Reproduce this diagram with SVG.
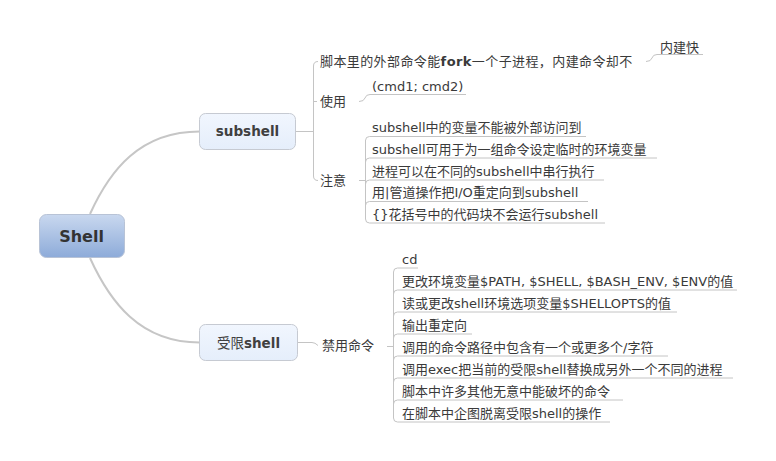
<svg xmlns="http://www.w3.org/2000/svg" width="776" height="461" viewBox="0 0 776 461">
<defs>
<linearGradient id="rootG" x1="0" y1="0" x2="0" y2="1">
<stop offset="0" stop-color="#c9d8ef"/>
<stop offset="1" stop-color="#8dabd9"/>
</linearGradient>
<linearGradient id="subG" x1="0" y1="0" x2="0" y2="1">
<stop offset="0" stop-color="#f1f6fe"/>
<stop offset="1" stop-color="#e5eefb"/>
</linearGradient>
</defs>
<style>
text{font-family:"DejaVu Sans","Noto Sans CJK SC",sans-serif;fill:#3a3a3a;font-size:13px}
.b{font-weight:bold}
.n{font-weight:normal}
.box{font-size:13.5px;font-weight:bold;fill:#404040;text-anchor:middle}
.main{fill:none;stroke:#c6c6c6;stroke-width:2}
.ln{fill:none;stroke:#c4c4c4;stroke-width:1}
</style>
<rect width="776" height="461" fill="#ffffff"/>
<g id="connectors">
<path class="main" d="M90,214 C110,170 140,131.5 199.5,131.5"/>
<path class="main" d="M90,258 C110,302 140,342.5 199.5,342.5"/>
<path class="ln" d="M296,131.5 L313.5,131.5"/>
<path class="ln" d="M318,61.5 Q313.5,61.5 313.5,66 L313.5,176 Q313.5,180.5 318,180.5"/>
<path class="ln" d="M313.5,101.5 L317,101.5"/>
<path class="ln" d="M646,61.5 Q651,61.5 652,58 Q653,54.5 657,54.5 L703,54.5"/>
<path class="ln" d="M359,101.5 Q364,101.5 365,98 Q366,94.5 370,94.5 L466,94.5"/>
<path class="ln" d="M359,180.5 L365.5,180.5"/>
<path class="ln" d="M365.5,140 L365.5,219"/>
<path class="ln" d="M365.5,140.5 Q365.5,136.5 369.5,136.5 L586,136.5"/>
<path class="ln" d="M365.5,162 Q365.5,158 369.5,158 L657,158"/>
<path class="ln" d="M365.5,184 Q365.5,180 369.5,180 L604,180"/>
<path class="ln" d="M365.5,205.5 Q365.5,201.5 369.5,201.5 L588,201.5"/>
<path class="ln" d="M365.5,219 Q365.5,223 369.5,223 L605,223"/>
<path class="ln" d="M298,342.5 L312,342.5 Q315,342.5 318,345.5"/>
<path class="ln" d="M387,346.5 L393.5,346.5"/>
<path class="ln" d="M393.5,272 L393.5,418"/>
<path class="ln" d="M393.5,272 Q393.5,268 397.5,268 L418,268"/>
<path class="ln" d="M393.5,294 Q393.5,290 397.5,290 L737,290"/>
<path class="ln" d="M393.5,316 Q393.5,312 397.5,312 L677,312"/>
<path class="ln" d="M393.5,338 Q393.5,334 397.5,334 L472,334"/>
<path class="ln" d="M393.5,360 Q393.5,356 397.5,356 L668,356"/>
<path class="ln" d="M393.5,382 Q393.5,378 397.5,378 L733,378"/>
<path class="ln" d="M393.5,404 Q393.5,400 397.5,400 L623,400"/>
<path class="ln" d="M393.5,418 Q393.5,422 397.5,422 L610,422"/>
</g>
<g id="root">
<rect x="39.5" y="214.5" width="85" height="43" rx="7" fill="url(#rootG)" stroke="#b8c3d6"/>
<text class="box" x="81.5" y="241.5" style="font-size:16px;fill:#333">Shell</text>
</g>
<g id="subshell">
<rect x="199.5" y="113.5" width="96" height="36" rx="6" fill="url(#subG)" stroke="#c6cad2"/>
<text class="box" x="247.5" y="136">subshell</text>
</g>
<g id="restricted">
<rect x="199.5" y="324.5" width="98" height="36" rx="6" fill="url(#subG)" stroke="#c6cad2"/>
<text class="box" x="248.5" y="347.5"><tspan class="n">受限</tspan>shell</text>
</g>
<g id="n-fork"><text x="320" y="66" style="letter-spacing:0.4px">脚本里的外部命令能<tspan class="b">fork</tspan>一个子进程，内建命令却不</text></g>
<g id="n-builtin"><text x="660" y="51.5">内建快</text></g>
<g id="n-use"><text x="320" y="106">使用</text></g>
<g id="n-cmd"><text x="372" y="90.5">(cmd1; cmd2)</text></g>
<g id="n-note"><text x="320" y="185">注意</text></g>
<g id="n-note1"><text x="372" y="132">subshell中的变量不能被外部访问到</text></g>
<g id="n-note2"><text x="372" y="153.5">subshell可用于为一组命令设定临时的环境变量</text></g>
<g id="n-note3"><text x="372" y="175.5">进程可以在不同的subshell中串行执行</text></g>
<g id="n-note4"><text x="372" y="197">用|管道操作把I/O重定向到subshell</text></g>
<g id="n-note5"><text x="372" y="218.5">{}花括号中的代码块不会运行subshell</text></g>
<g id="n-ban"><text x="322" y="350">禁用命令</text></g>
<g id="n-b1"><text x="402" y="263.5">cd</text></g>
<g id="n-b2"><text x="402" y="285.5">更改环境变量$PATH, $SHELL, $BASH_ENV, $ENV的值</text></g>
<g id="n-b3"><text x="402" y="307.5">读或更改shell环境选项变量$SHELLOPTS的值</text></g>
<g id="n-b4"><text x="402" y="329.5">输出重定向</text></g>
<g id="n-b5"><text x="402" y="351.5">调用的命令路径中包含有一个或更多个/字符</text></g>
<g id="n-b6"><text x="402" y="373.5">调用exec把当前的受限shell替换成另外一个不同的进程</text></g>
<g id="n-b7"><text x="402" y="395.5">脚本中许多其他无意中能破坏的命令</text></g>
<g id="n-b8"><text x="402" y="417.5">在脚本中企图脱离受限shell的操作</text></g>
</svg>
